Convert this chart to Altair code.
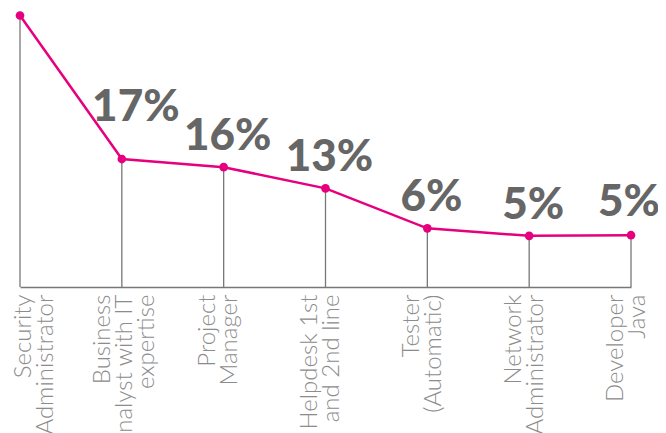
import altair as alt
import pandas as pd

roles = [
    "Security Administrator",
    "Business Analyst with IT expertise",
    "Project Manager",
    "Helpdesk 1st and 2nd line",
    "Tester (Automatic)",
    "Network Administrator",
    "Developer Java",
]
role_lines = [
    "Security|Administrator",
    "Business|Analyst with IT|expertise",
    "Project|Manager",
    "Helpdesk 1st|and 2nd line",
    "Tester|(Automatic)",
    "Network|Administrator",
    "Developer|Java",
]
shares = [40.3, 17.3, 16.0, 12.6, 6.2, 5.0, 5.1]
share_labels = ["", "17%", "16%", "13%", "6%", "5%", "5%"]

df = pd.DataFrame({
    "role": roles,
    "lines": role_lines,
    "share": shares,
    "label": share_labels,
})

Y_LO, Y_HI = -3.2, 41.5
PINK = "#e6007e"
GREY = "#777777"

label_expr = "split(datum.label, '|')"

x_enc = alt.X(
    "lines:N",
    sort=role_lines,
    scale=alt.Scale(type="point", padding=0),
    axis=alt.Axis(
        title=None,
        labelAngle=-90,
        labelAlign="right",
        labelBaseline="middle",
        labelExpr=label_expr,
        labelFont="Lato",
        labelFontWeight=300,
        labelFontSize=24,
        labelLineHeight=22,
        labelColor="#8c8c8c",
        labelPadding=7,
        labelOffset={
            "condition": [
                {"test": "datum.index == 0", "value": 3},
                {"test": "datum.index > 0.1 && datum.index < 0.2", "value": -19},
            ],
            "value": -16,
        },
        ticks=False,
        domainColor=GREY,
        domainWidth=1.5,
        labelOverlap=False,
        labelBound=False,
        labelFlush=False,
    ),
)
y_scale = alt.Scale(domain=[Y_LO, Y_HI], zero=False, nice=False)
y_enc = alt.Y("share:Q", scale=y_scale, axis=None)

base = alt.Chart(df)

rules = base.mark_rule(color=GREY, strokeWidth=1.3).encode(
    x=x_enc, y=y_enc, y2=alt.datum(Y_LO)
)
line = base.mark_line(color=PINK, strokeWidth=2.5).encode(x=x_enc, y=y_enc)
pts = base.mark_circle(color=PINK, size=75, opacity=1).encode(x=x_enc, y=y_enc)

text_style = dict(font="Lato", fontWeight=900, fontSize=44, color="#666666",
                  baseline="alphabetic", align="center")
# the first visible label sits higher, clear of the steep segment
texts_high = base.transform_filter(alt.datum.role == roles[1]).mark_text(
    dx=14, dy=-38, **text_style
).encode(x=x_enc, y=y_enc, text="label:N")
texts = base.transform_filter(
    (alt.datum.role != roles[1]) & (alt.datum.role != roles[-1])
).mark_text(dx=4, dy=-17, **text_style).encode(x=x_enc, y=y_enc, text="label:N")
# the last label is nudged left to stay inside the canvas
texts_last = base.transform_filter(alt.datum.role == roles[-1]).mark_text(
    dx=-2, dy=-19, **text_style
).encode(x=x_enc, y=y_enc, text="label:N")

chart = (
    alt.layer(rules, line, pts, texts_high, texts, texts_last)
    .properties(
        width=611,
        height=279,
        autosize=alt.AutoSizeParams(type="none"),
        padding={"left": 12, "top": 0, "right": 27, "bottom": 146},
    )
    .configure_view(stroke=None)
)

chart.save("out.html", embed_options={"renderer": "svg", "actions": False})
